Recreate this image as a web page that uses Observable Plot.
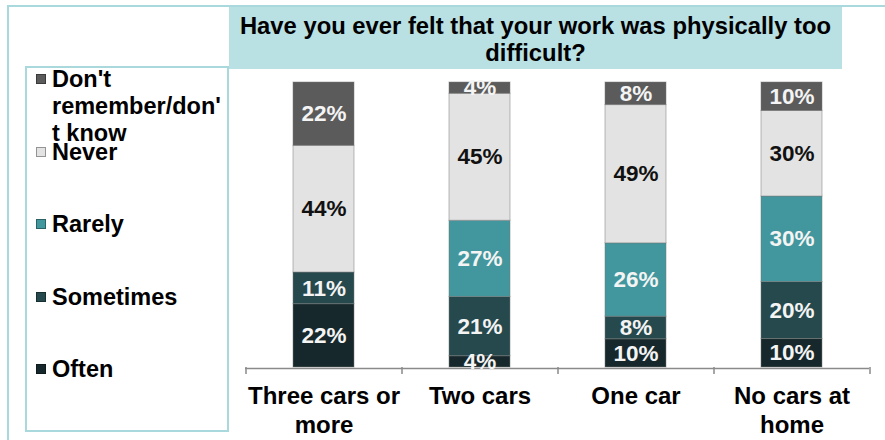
<!DOCTYPE html>
<html>
<head>
<meta charset="utf-8">
<script src="https://cdn.jsdelivr.net/npm/d3@7"></script>
<script src="https://cdn.jsdelivr.net/npm/@observablehq/plot@0.6"></script>
<style>
  body { margin: 0; background: #fff; }
  #wrap { position: relative; width: 885px; height: 440px; overflow: hidden; background: #fff;
          font-family: "Liberation Sans", Arial, sans-serif; font-weight: bold; color: #000; }
  #frame { position: absolute; left: 7px; top: 5px; width: 900px; height: 500px;
           border: 2px solid #a9d9dd; box-sizing: border-box; }
  #chart { position: absolute; left: 230px; top: 70px; }
  #title { position: absolute; left: 229px; top: 7px; width: 613px; height: 62px; background: #b9e0e3;
           font-size: 23.8px; line-height: 27px; text-align: center; padding-top: 5px; box-sizing: border-box; }
  #legend { position: absolute; left: 25px; top: 66px; width: 204px; height: 366px;
            border: 2px solid #a9d9dd; box-sizing: border-box; background: #fff; }
  .item { position: absolute; left: 25px; width: 175px; font-size: 23.5px; line-height: 27px; }
  .item .sw { position: absolute; left: -16px; top: 8px; width: 10px; height: 10px; box-sizing: border-box;
              border: 1px solid rgba(0,0,0,0.35); }
</style>
</head>
<body>
<div id="wrap">
  <div id="frame"></div>
  <div id="chart"></div>
  <div id="title"></div>
  <div id="legend"></div>
</div>
<script>
const titleText = "Have you ever felt that your work was physically too difficult?";
const categories = ["Three cars or more", "Two cars", "One car", "No cars at home"];
const tickLabels = ["Three cars or\nmore", "Two cars", "One car", "No cars at\nhome"];
const seriesNames = ["Often", "Sometimes", "Rarely", "Never", "Don't remember/don't know"];
const legendLabels = ["Often", "Sometimes", "Rarely", "Never", "Don't<br>remember/don'<br>t know"];
const often = [22, 4, 10, 10];
const sometimes = [11, 21, 8, 20];
const rarely = [0, 27, 26, 30];
const never = [44, 45, 49, 30];
const dontKnow = [22, 4, 8, 10];
const colors = ["#16282b", "#25494d", "#41979d", "#e3e3e3", "#5b5b5b"];

const seriesValues = [often, sometimes, rarely, never, dontKnow];
const data = [];
seriesNames.forEach((s, si) => categories.forEach((c, ci) =>
  data.push({category: c, series: s, value: seriesValues[si][ci]})));

document.getElementById("title").textContent = titleText;

// legend (top to bottom: reverse stacking order)
const legend = document.getElementById("legend");
const order = [4, 3, 2, 1, 0];
order.forEach((si, k) => {
  const it = document.createElement("div");
  it.className = "item";
  it.style.top = (-2 + k * 72.6) + "px";
  it.innerHTML = `<span class="sw" style="background:${colors[si]}"></span>${legendLabels[si]}`;
  legend.appendChild(it);
});

const W = 655, H = 370, mL = 15, mR = 16, mT = 12, mB = 73;
const step = (W - mL - mR) / categories.length;
const innerH = H - mT - mB;
const stackOpts = {offset: "normalize", order: seriesNames, x: "category", y: "value", z: "series"};
const lab = d => (d.value > 0 ? d.value + "%" : null);

const plot = Plot.plot({
  width: W, height: H,
  marginLeft: mL, marginRight: mR, marginTop: mT, marginBottom: mB,
  style: {background: "transparent", fontFamily: "Liberation Sans, Arial, sans-serif"},
  x: {domain: categories, paddingInner: 0.61, paddingOuter: 0.305, axis: null},
  y: {domain: [0, 1], axis: null},
  color: {domain: seriesNames, range: colors},
  marks: [
    Plot.barY(data, Plot.stackY({...stackOpts, fill: "series", stroke: "#7a7a7a", strokeOpacity: 0.5, strokeWidth: 1})),
    Plot.ruleY([0], {stroke: "#8a8a8a", strokeWidth: 1.5, dy: 1}),
    Plot.ruleX(categories, {x: d => d, dx: -step / 2, insetTop: innerH, insetBottom: -7, stroke: "#8a8a8a", strokeWidth: 1.5}),
    Plot.ruleX(categories.slice(-1), {x: d => d, dx: step / 2, insetTop: innerH, insetBottom: -7, stroke: "#8a8a8a", strokeWidth: 1.5}),
    Plot.text(data, Plot.stackY({...stackOpts,
      text: d => (d.series !== "Never" ? lab(d) : null), fill: "#f4f4f4", fontSize: 22.5, fontWeight: "bold"})),
    Plot.text(data, Plot.stackY({...stackOpts,
      text: d => (d.series === "Never" ? lab(d) : null), fill: "#111", fontSize: 22.5, fontWeight: "bold"})),
    Plot.text(categories, {x: d => d, frameAnchor: "bottom", text: (d, i) => tickLabels[i],
      lineAnchor: "top", dy: 16, lineHeight: 1.2, fontSize: 24, fontWeight: "bold", fill: "#000"})
  ]
});
document.getElementById("chart").appendChild(plot);
</script>
</body>
</html>
